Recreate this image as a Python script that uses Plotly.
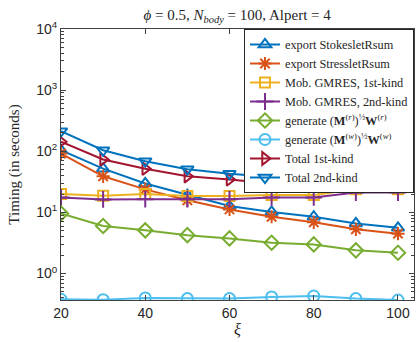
import plotly.graph_objects as go

xi = [20, 30, 40, 50, 60, 70, 80, 90, 100]

stokeslet = [104, 52, 29.8, 19.2, 12.7, 10.2, 8.5, 6.6, 5.6]
stresslet = [92, 39, 23.8, 15.8, 11.2, 8.5, 6.9, 5.3, 4.5]
gmres1 = [20, 18.7, 20, 18.6, 18.6, 19.2, 19.2, 24, 24]
gmres2 = [17.6, 16.3, 16.5, 16.5, 16.5, 17.6, 17.6, 21.2, 21.2]
gen_r = [9.6, 6.0, 5.1, 4.25, 3.76, 3.2, 3.0, 2.4, 2.19]
gen_w = [0.38, 0.375, 0.40, 0.39, 0.39, 0.415, 0.43, 0.39, 0.37]
total1 = [143, 73.5, 52, 39, 34.6, 29.8, 29.8, 31, 30.7]
total2 = [213, 104, 69, 51, 43, 38, 32.5, 31.6, 31.6]

names = [
    "export StokesletRsum",
    "export StressletRsum",
    "Mob. GMRES, 1st-kind",
    "Mob. GMRES, 2nd-kind",
    "generate (<b>M</b><sup>(<i>r</i>)</sup>)<sup>½</sup><b>W</b><sup>(<i>r</i>)</sup>",
    "generate (<b>M</b><sup>(<i>w</i>)</sup>)<sup>½</sup><b>W</b><sup>(<i>w</i>)</sup>",
    "Total 1st-kind",
    "Total 2nd-kind",
]
series = [stokeslet, stresslet, gmres1, gmres2, gen_r, gen_w, total1, total2]
colors = ["#0072BD", "#D95319", "#EDB120", "#7E2F8E", "#77AC30", "#4DBEEE", "#A2142F", "#0072BD"]
symbols = ["triangle-up-open", "asterisk-open", "square-open", "cross-thin-open",
           "diamond-open", "circle-open", "triangle-right-open", "triangle-down-open"]
sizes = [11, 11, 10, 12, 11, 11, 11, 11]

major_y = [1, 10, 100, 1000, 10000]
major_y_text = ["10<sup>0</sup>", "10<sup>1</sup>", "10<sup>2</sup>", "10<sup>3</sup>", "10<sup>4</sup>"]
minor_y = [k * 10.0 ** e for e in range(-1, 4) for k in range(2, 10)]

serif = "Liberation Serif"
fig = go.Figure()
for name, ys, c, s, sz in zip(names, series, colors, symbols, sizes):
    fig.add_trace(go.Scatter(
        x=xi, y=ys, name=name, mode="lines+markers",
        line=dict(color=c, width=2),
        marker=dict(symbol=s, size=sz, color=c, line=dict(color=c, width=2)),
    ))

axcol = "#404040"
fig.update_layout(
    width=416, height=342,
    margin=dict(l=61, r=2, t=29, b=42, autoexpand=False),
    paper_bgcolor="white", plot_bgcolor="white",
    title=dict(text="<i>ϕ</i> = 0.5, <i>N</i><sub><i>body</i></sub> = 100, Alpert = 4",
               x=0.57, xanchor="center", y=0.958, yanchor="middle",
               font=dict(family=serif, size=15, color="#262626")),
    showlegend=True,
    legend=dict(x=1.0, y=1.0, xanchor="right", yanchor="top",
                bgcolor="white", bordercolor="#262626", borderwidth=1,
                font=dict(family=serif, size=12.3, color="#262626"),
                itemwidth=30, tracegroupgap=0),
    xaxis=dict(range=[20, 103.8], tickvals=[20, 40, 60, 80, 100],
               ticks="inside", ticklen=5, tickcolor=axcol, mirror="ticks",
               showline=True, linecolor=axcol, linewidth=1, showgrid=False, zeroline=False,
               tickfont=dict(family="Liberation Sans", size=14, color="#262626"),
               title=dict(text="<i>ξ</i>", standoff=4,
                          font=dict(family=serif, size=16, color="#262626"))),
    yaxis=dict(type="log", range=[-0.432, 4],
               tickvals=major_y, ticktext=major_y_text,
               ticks="inside", ticklen=5, tickcolor=axcol, mirror="ticks",
               minor=dict(tickvals=minor_y, ticks="inside", ticklen=3, tickcolor=axcol, showgrid=False),
               showline=True, linecolor=axcol, linewidth=1, showgrid=False, zeroline=False,
               tickfont=dict(family="Liberation Sans", size=14, color="#262626"),
               title=dict(text="Timing (in seconds)", standoff=12,
                          font=dict(family=serif, size=15, color="#262626"))),
)

fig.write_html("out.html")
